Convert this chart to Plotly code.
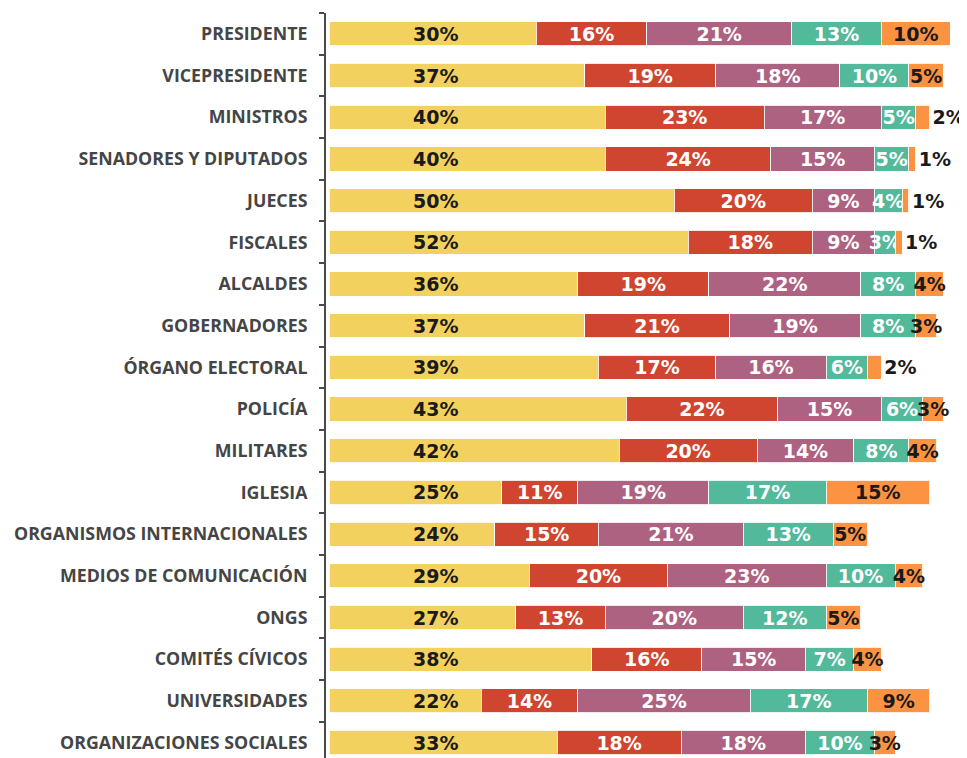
import plotly.graph_objects as go

categories = [
    "PRESIDENTE", "VICEPRESIDENTE", "MINISTROS", "SENADORES Y DIPUTADOS",
    "JUECES", "FISCALES", "ALCALDES", "GOBERNADORES", "ÓRGANO ELECTORAL",
    "POLICÍA", "MILITARES", "IGLESIA", "ORGANISMOS INTERNACIONALES",
    "MEDIOS DE COMUNICACIÓN", "ONGS", "COMITÉS CÍVICOS", "UNIVERSIDADES",
    "ORGANIZACIONES SOCIALES",
]
s1 = [30, 37, 40, 40, 50, 52, 36, 37, 39, 43, 42, 25, 24, 29, 27, 38, 22, 33]
s2 = [16, 19, 23, 24, 20, 18, 19, 21, 17, 22, 20, 11, 15, 20, 13, 16, 14, 18]
s3 = [21, 18, 17, 15, 9, 9, 22, 19, 16, 15, 14, 19, 21, 23, 20, 15, 25, 18]
s4 = [13, 10, 5, 5, 4, 3, 8, 8, 6, 6, 8, 17, 13, 10, 12, 7, 17, 10]
s5 = [10, 5, 2, 1, 1, 1, 4, 3, 2, 3, 4, 15, 5, 4, 5, 4, 9, 3]

series = [s1, s2, s3, s4, s5]
colors = ["#F2D15E", "#CF4530", "#AE6282", "#52B99B", "#FB9343"]
text_colors = ["#1A1A1A", "#FFFFFF", "#FFFFFF", "#FFFFFF", "#1A1A1A"]

VAL_FONT = "DejaVu Sans"
VAL_SIZE = 19
YELLOW_LABEL_X = 15.4

fig = go.Figure()
for i, (vals, col, tcol) in enumerate(zip(series, colors, text_colors)):
    if i == 0:
        texts = None
        tpos = "none"
    elif i == 4:
        texts = [f"{v}%" for v in vals]
        tpos = ["outside" if v <= 2 else "inside" for v in vals]
    else:
        texts = [f"{v}%" for v in vals]
        tpos = "inside"
    fig.add_trace(go.Bar(
        y=categories, x=vals, orientation="h",
        marker=dict(color=col, line=dict(color="rgba(255,255,255,0.85)", width=1)),
        text=texts, textposition=tpos, textangle=0,
        insidetextanchor="middle",
        insidetextfont=dict(color=tcol, family=VAL_FONT, size=VAL_SIZE, weight="bold"),
        outsidetextfont=dict(color="#1A1A1A", family=VAL_FONT, size=VAL_SIZE, weight="bold"),
        constraintext="none", cliponaxis=False,
        showlegend=False, hoverinfo="skip",
    ))

for cat, v in zip(categories, s1):
    fig.add_annotation(
        x=YELLOW_LABEL_X, y=cat, text=f"{v}%", showarrow=False,
        xanchor="center", yanchor="middle",
        font=dict(color="#1A1A1A", family=VAL_FONT, size=VAL_SIZE, weight="bold"),
    )

fig.update_layout(
    barmode="stack",
    bargap=0.42,
    width=967, height=758,
    margin=dict(l=318, r=8, t=5, b=8),
    paper_bgcolor="white", plot_bgcolor="white",
    uniformtext=dict(minsize=VAL_SIZE, mode="show"),
)
fig.update_xaxes(range=[-0.48, 92.42], visible=False, showgrid=False, zeroline=False)
fig.update_yaxes(
    categoryorder="array", categoryarray=categories,
    range=[17.37, -0.5],
    showline=True, linecolor="#4A4A4A", linewidth=2,
    ticks="outside", ticklen=5, tickcolor="#4A4A4A", tickwidth=2,
    tickson="boundaries",
    ticklabelstandoff=13,
    tickfont=dict(family="Open Sans", size=17.8, color="#454545", weight="bold"),
    showgrid=False,
)

fig.write_html("out.html")
